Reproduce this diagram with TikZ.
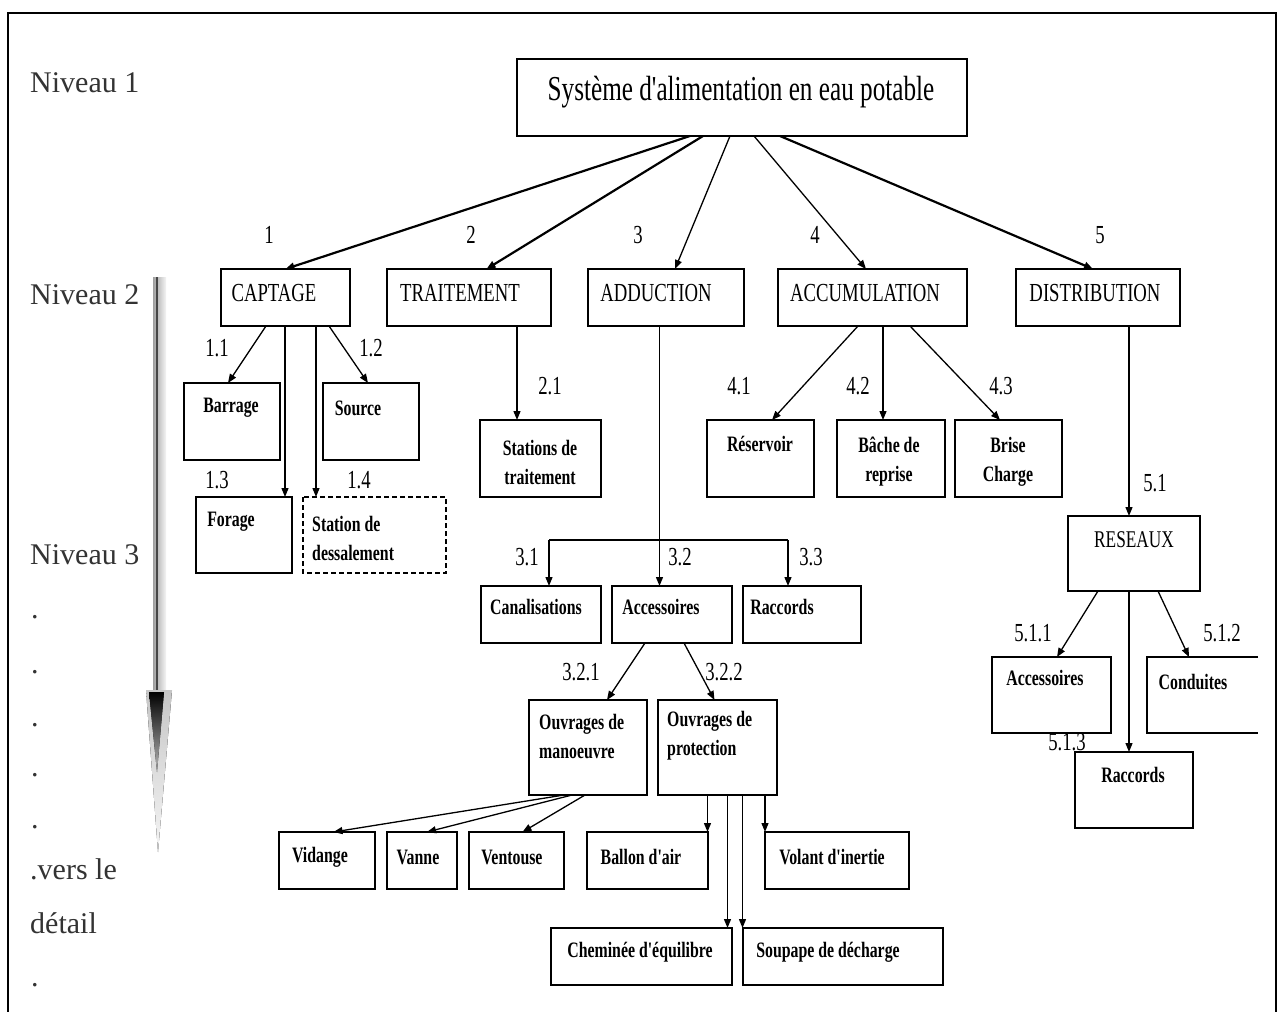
\documentclass[tikz,border=0pt]{standalone}
\usepackage{fontspec}
\setmainfont{Liberation Serif}
\newfontfamily\condfont[FakeStretch=0.72]{Liberation Serif}
\usetikzlibrary{arrows.meta}

% box given by its corners: name, x1, y1, x2, y2
\newcommand\mkbox[6][]{%
  \node[bx,minimum width={(#5)-(#3)},minimum height={(#6)-(#4)},#1] (#2)
    at ({((#3)+(#5))/2},{((#4)+(#6))/2}) {};}

\tikzset{
  x=1pt, y=-1pt,
  bx/.style={draw, line width=1.8pt, rectangle, inner sep=0pt, outer sep=0pt},
  dbx/.style={line width=1.4pt, dash pattern=on 5pt off 3pt},
  conn/.style={line width=1.3pt, -{Triangle[length=9pt,width=7pt]}},
  connthick/.style={conn, line width=2.2pt},
  plain/.style={line width=1.3pt},
  ttop/.style={font=\condfont\fontsize{35}{37}\selectfont, inner sep=0pt},
  tlvl/.style={font=\condfont\fontsize{26}{28}\selectfont, inner sep=0pt},
  tres/.style={font=\condfont\fontsize{24}{26}\selectfont, inner sep=0pt},
  tsm/.style={font=\condfont\bfseries\fontsize{22}{29}\selectfont, inner sep=0pt, align=center},
  tsml/.style={tsm, align=left, anchor=west},
  tnum/.style={font=\condfont\fontsize{26}{28}\selectfont, inner sep=0pt},
  tside/.style={font=\fontsize{30}{34}\selectfont, text=black!80, inner sep=0pt, anchor=west},
}

\begin{document}
\begin{tikzpicture}
\useasboundingbox (0,0) rectangle (1278,1012);
\fill[white] (0,0) rectangle (1278,1012);

% outer frame, open at the bottom
\draw[line width=2pt] (8,1012) -- (8,13) -- (1276,13) -- (1276,1012);

% ---- level indicator on the left
\fill[left color=gray!75, right color=gray!8] (153,277) rectangle (166,695);
\draw[gray!55!black, line width=1.1pt] (157,277) -- (157,695);
\fill[top color=gray!45, bottom color=gray!8] (146,690) -- (172,690) -- (158,852) -- cycle;
\fill[top color=black, bottom color=gray!55] (149,692) -- (164,692) -- (157,772) -- cycle;

\node[tside] (n1) at (30,83) {Niveau 1};
\node[tside] (n2) at (30,295) {Niveau 2};
\node[tside] (n3) at (30,555) {Niveau 3};
\node[tside] (d1) at (31,617) {.};
\node[tside] (d2) at (31,672) {.};
\node[tside] (d3) at (31,725) {.};
\node[tside] (d4) at (31,775) {.};
\node[tside] (d5) at (31,827) {.};
\node[tside] (vers) at (30,869) {.vers le};
\node[tside] (detail) at (30,923) {détail};
\node[tside] (d6) at (31,985) {.};

% ---- boxes
\mkbox{top}{517}{59}{967}{136}
\mkbox{captage}{221}{269}{350}{326}
\mkbox{traitement}{387}{269}{551}{326}
\mkbox{adduction}{588}{269}{744}{326}
\mkbox{accumulation}{778}{269}{967}{326}
\mkbox{distribution}{1016}{269}{1180}{326}

\mkbox{barrage}{184}{383}{280}{460}
\mkbox{source}{323}{383}{419}{460}
\mkbox{forage}{196}{497}{292}{573}
\mkbox[draw=none]{dessal}{303}{497}{446}{573}
\draw[dbx] (dessal.north west) rectangle (dessal.south east);

\mkbox{stations}{480}{420}{601}{497}
\mkbox{reservoir}{707}{420}{814}{497}
\mkbox{bache}{837}{420}{945}{497}
\mkbox{brise}{955}{420}{1062}{497}

\mkbox{canal}{481}{586}{601}{643}
\mkbox{access}{612}{586}{732}{643}
\mkbox{raccords}{743}{586}{861}{643}

\mkbox{manoeuvre}{529}{700}{647}{795}
\mkbox{protection}{658}{700}{777}{795}

\mkbox{vidange}{279}{832}{375}{889}
\mkbox{vanne}{387}{832}{457}{889}
\mkbox{ventouse}{469}{832}{564}{889}
\mkbox{ballon}{587}{832}{708}{889}
\mkbox{volant}{765}{832}{909}{889}
\mkbox{cheminee}{551}{928}{732}{985}
\mkbox{soupape}{743}{928}{943}{985}

\mkbox{reseaux}{1068}{516}{1200}{591}
\mkbox{accfive}{992}{657}{1111}{733}
\mkbox[draw=none]{conduites}{1147}{657}{1258}{733}
\draw[line width=1.8pt] (conduites.north east) -- (conduites.north west)
  -- (conduites.south west) -- (conduites.south east);
\mkbox{raccfive}{1075}{752}{1193}{828}

% ---- box texts
\node[ttop] (t-top) at (741,92) {Système d'alimentation en eau potable};
\node[tlvl] (t-captage) at (274,293) {CAPTAGE};
\node[tlvl] (t-traitement) at (460,293) {TRAITEMENT};
\node[tlvl] (t-adduction) at (656,293) {ADDUCTION};
\node[tlvl] (t-accumulation) at (865,293) {ACCUMULATION};
\node[tlvl] (t-distribution) at (1095,293) {DISTRIBUTION};

\node[tsm] (t-barrage) at (231,408) {Barrage};
\node[tsm] (t-source) at (358,408) {Source};
\node[tsm] (t-forage) at (231,522) {Forage};
\node[tsml] (t-dessal) at (312,538) {Station de\\dessalement};
\node[tsm] (t-stations) at (540,462) {Stations de\\traitement};
\node[tsm] (t-reservoir) at (760,444) {Réservoir};
\node[tsm] (t-bache) at (889,462) {Bâche de\\reprise};
\node[tsm] (t-brise) at (1008,462) {Brise\\Charge};

\node[tsm] (t-canal) at (536,607) {Canalisations};
\node[tsm] (t-access) at (661,607) {Accessoires};
\node[tsm] (t-raccords) at (782,607) {Raccords};
\node[tsml] (t-manoeuvre) at (539,736) {Ouvrages de\\manoeuvre};
\node[tsml] (t-protection) at (667,736) {Ouvrages de\\protection};

\node[tsm] (t-vidange) at (320,857) {Vidange};
\node[tsm] (t-vanne) at (418,857) {Vanne};
\node[tsm] (t-ventouse) at (512,857) {Ventouse};
\node[tsm] (t-ballon) at (641,857) {Ballon d'air};
\node[tsm] (t-volant) at (832,857) {Volant d'inertie};
\node[tsm] (t-cheminee) at (640,952) {Cheminée d'équilibre};
\node[tsm] (t-soupape) at (828,952) {Soupape de décharge};

\node[tres] (t-reseaux) at (1134,540) {RESEAUX};
\node[tsm] (t-accfive) at (1045,678) {Accessoires};
\node[tsm] (t-conduites) at (1193,682) {Conduites};
\node[tsm] (t-raccfive) at (1133,775) {Raccords};

% ---- branch numbers
\node[tnum] (l1) at (269,235) {1};
\node[tnum] (l2) at (471,235) {2};
\node[tnum] (l3) at (638,235) {3};
\node[tnum] (l4) at (815,235) {4};
\node[tnum] (l5) at (1100,235) {5};
\node[tnum] (l11) at (217,348) {1.1};
\node[tnum] (l12) at (371,348) {1.2};
\node[tnum] (l13) at (217,480) {1.3};
\node[tnum] (l14) at (359,480) {1.4};
\node[tnum] (l21) at (550,386) {2.1};
\node[tnum] (l31) at (527,557) {3.1};
\node[tnum] (l32) at (680,557) {3.2};
\node[tnum] (l33) at (811,557) {3.3};
\node[tnum] (l321) at (581,672) {3.2.1};
\node[tnum] (l322) at (724,672) {3.2.2};
\node[tnum] (l41) at (739,386) {4.1};
\node[tnum] (l42) at (858,386) {4.2};
\node[tnum] (l43) at (1001,386) {4.3};
\node[tnum] (l51) at (1155,483) {5.1};
\node[tnum] (l511) at (1033,633) {5.1.1};
\node[tnum] (l512) at (1222,633) {5.1.2};
\node[tnum] (l513) at (1067,742) {5.1.3};

% ---- connectors: level 1 to level 2
\draw[connthick] ([xshift=-52pt]top.south) -- ([xshift=0pt]captage.north);
\draw[connthick] ([xshift=-39pt]top.south) -- ([xshift=17.5pt]traitement.north);
\draw[conn] ([xshift=-12pt]top.south) -- ([xshift=9pt]adduction.north);
\draw[conn] ([xshift=12pt]top.south) -- ([xshift=-6.5pt]accumulation.north);
\draw[connthick] ([xshift=38pt]top.south) -- ([xshift=-5pt]distribution.north);

% captage
\draw[conn] ([xshift=-19.5pt]captage.south) -- ([xshift=-4pt]barrage.north);
\draw[conn] ([xshift=43.5pt]captage.south) -- ([xshift=-3pt]source.north);
\draw[conn] ([xshift=-0.5pt]captage.south) -- ([xshift=-0.5pt]captage.south |- forage.north);
\draw[conn] ([xshift=30.5pt]captage.south) -- ([xshift=30.5pt]captage.south |- dessal.north);

% traitement
\draw[conn] ([xshift=48pt]traitement.south) -- ([xshift=48pt]traitement.south |- stations.north);

% adduction
\coordinate (forkL) at (549,540);
\coordinate (forkR) at (788,540);
\draw[conn] ([xshift=-6.5pt]adduction.south) -- ([xshift=-6.5pt]adduction.south |- access.north);
\draw[plain] (forkL) -- (forkR);
\draw[conn] (forkL) -- (forkL |- canal.north);
\draw[conn] (forkR) -- (forkR |- raccords.north);
\draw[conn] ([xshift=-27pt]access.south) -- ([xshift=19pt]manoeuvre.north);
\draw[conn] ([xshift=12pt]access.south) -- ([xshift=-3pt]protection.north);
\draw[conn] ([xshift=-24pt]manoeuvre.south) -- ([xshift=6.5pt]vidange.north);
\draw[conn] ([xshift=-16pt]manoeuvre.south) -- ([xshift=5pt]vanne.north);
\draw[conn] ([xshift=-3pt]manoeuvre.south) -- ([xshift=6pt]ventouse.north);
\draw[conn] ([xshift=-10pt]protection.south) -- ([xshift=-10pt]protection.south |- ballon.north);
\draw[conn] ([xshift=10pt]protection.south) -- ([xshift=10pt]protection.south |- cheminee.north);
\draw[conn] ([xshift=25pt]protection.south) -- ([xshift=25pt]protection.south |- soupape.north);
\draw[conn] ([xshift=47.5pt]protection.south) -- ([xshift=47.5pt]protection.south |- volant.north);

% accumulation
\draw[conn] ([xshift=-14.5pt]accumulation.south) -- ([xshift=11.5pt]reservoir.north);
\draw[conn] ([xshift=10.5pt]accumulation.south) -- ([xshift=10.5pt]accumulation.south |- bache.north);
\draw[conn] ([xshift=37.5pt]accumulation.south) -- ([xshift=-8.5pt]brise.north);

% distribution
\draw[conn] ([xshift=31pt]distribution.south) -- ([xshift=31pt]distribution.south |- reseaux.north);
\draw[conn] ([xshift=-36pt]reseaux.south) -- ([xshift=5.5pt]accfive.north);
\draw[conn] ([xshift=24pt]reseaux.south) -- ([xshift=-13.5pt]conduites.north);
\draw[conn] ([xshift=-5pt]reseaux.south) -- ([xshift=-5pt]reseaux.south |- raccfive.north);
\end{tikzpicture}
\end{document}
